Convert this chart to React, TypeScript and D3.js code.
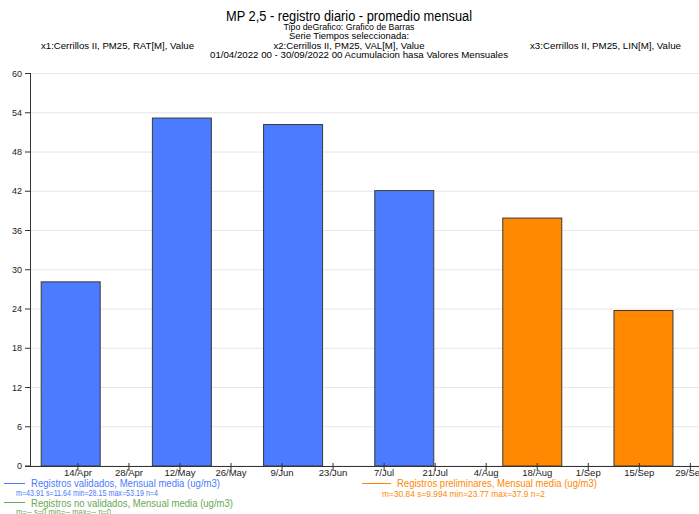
import React from "react";
import * as d3 from "d3";

const W = 699;
const H = 514;

const titleText = "MP 2,5 - registro diario - promedio mensual";
const subLines = [
  "Tipo deGrafico: Grafico de Barras",
  "Serie Tiempos seleccionada:",
];
const seriesIds = [
  "x1:Cerrillos II, PM25, RAT[M], Value",
  "x2:Cerrillos II, PM25, VAL[M], Value",
  "x3:Cerrillos II, PM25, LIN[M], Value",
];
const rangeText = "01/04/2022 00 - 30/09/2022 00  Acumulacion hasa Valores Mensuales";

// monthly means
const validMonths = ["2022-04", "2022-05", "2022-06", "2022-07"];
const validValues = [28.15, 53.19, 52.2, 42.1];
const prelimMonths = ["2022-08", "2022-09"];
const prelimValues = [37.9, 23.77];

const yTicks = [0, 6, 12, 18, 24, 30, 36, 42, 48, 54, 60];

const legendItems = [
  { label: "Registros validados, Mensual media (ug/m3)", stats: "m=43.91 s=11.64 min=28.15 max=53.19 n=4" },
  { label: "Registros preliminares, Mensual media (ug/m3)", stats: "m=30.84 s=9.994 min=23.77 max=37.9 n=2" },
  { label: "Registros no validados, Mensual media (ug/m3)", stats: "m=-- s=0 min=-- max=-- n=0" },
];

const FONT = "'Liberation Sans Narrow', 'Arial Narrow', 'Liberation Sans', Arial, sans-serif";
const BLUE = "#4b7bff";
const ORANGE = "#ff8800";
const GREEN = "#6aa84f";

const parseMonth = d3.timeParse("%Y-%m");

export default function App() {
  const x = d3
    .scaleTime()
    .domain([new Date(2022, 3, 1), new Date(2022, 8, 30)])
    .range([30.5, 694]);
  const y = d3.scaleLinear().domain([0, 60]).range([466, 73.5]);
  const xTicks = d3.timeDay.range(new Date(2022, 3, 14), new Date(2022, 9, 1), 14);
  const fmt = d3.timeFormat("%-d/%b");

  const barW = 59;
  const monthCenter = (m: string) => {
    const s = parseMonth(m)!;
    const e = d3.timeMonth.offset(s, 1);
    return (x(s) + x(e)) / 2;
  };

  const bars = [
    ...validMonths.map((m, i) => ({ cx: monthCenter(m) - 14.5, v: validValues[i], c: BLUE })),
    ...prelimMonths.map((m, i) => ({ cx: monthCenter(m) + 0.5, v: prelimValues[i], c: ORANGE })),
  ];

  return (
    <svg
      width={W}
      height={H}
      style={{ position: "absolute", left: 0, top: 0, background: "#fff" }}
      fontFamily={FONT}
    >
      {/* header */}
      <text x={349} y={20.5} textAnchor="middle" fontSize={14} textLength={246} lengthAdjust="spacingAndGlyphs">
        {titleText}
      </text>
      <text x={349} y={30} textAnchor="middle" fontSize={9} textLength={131} lengthAdjust="spacingAndGlyphs">
        {subLines[0]}
      </text>
      <text x={349} y={39} textAnchor="middle" fontSize={9} textLength={120} lengthAdjust="spacingAndGlyphs">
        {subLines[1]}
      </text>
      <text x={41} y={48.5} fontSize={9} textLength={153} lengthAdjust="spacingAndGlyphs">
        {seriesIds[0]}
      </text>
      <text x={349} y={48.5} textAnchor="middle" fontSize={9} textLength={151} lengthAdjust="spacingAndGlyphs">
        {seriesIds[1]}
      </text>
      <text x={681} y={48.5} textAnchor="end" fontSize={9} textLength={151} lengthAdjust="spacingAndGlyphs">
        {seriesIds[2]}
      </text>
      <text x={359} y={58} textAnchor="middle" fontSize={9} textLength={298} lengthAdjust="spacingAndGlyphs">
        {rangeText}
      </text>

      {/* grid */}
      {yTicks.map((t) => (
        <line key={"g" + t} x1={31} x2={W} y1={y(t)} y2={y(t)} stroke="#e6e6e6" strokeWidth={1} />
      ))}

      {/* bars */}
      {bars.map((b, i) => (
        <rect
          key={i}
          x={b.cx - barW / 2}
          y={y(b.v)}
          width={barW}
          height={y(0) - y(b.v)}
          fill={b.c}
          stroke="#3a3a3a"
          strokeWidth={1}
        />
      ))}

      {/* y axis */}
      <line x1={30.5} x2={30.5} y1={y(60)} y2={y(0)} stroke="#333" />
      {yTicks.map((t) => (
        <g key={"y" + t}>
          <line x1={25} x2={31} y1={y(t)} y2={y(t)} stroke="#333" />
          <text x={22} y={y(t) + 3} textAnchor="end" fontSize={9} fill="#222">
            {t}
          </text>
        </g>
      ))}

      {/* x axis */}
      <line x1={25} x2={W} y1={466.5} y2={466.5} stroke="#333" />
      {xTicks.map((d, i) => (
        <g key={"x" + i}>
          <line x1={x(d)} x2={x(d)} y1={463} y2={471} stroke="#333" />
          <text x={x(d)} y={476} textAnchor="middle" fontSize={9.5} fill="#222">
            {fmt(d)}
          </text>
        </g>
      ))}

      {/* legend */}
      <line x1={4} x2={25} y1={483.5} y2={483.5} stroke={BLUE} />
      <text x={31} y={487} fontSize={10.5} fill={BLUE} textLength={189} lengthAdjust="spacingAndGlyphs">
        {legendItems[0].label}
      </text>
      <text x={16} y={495.5} fontSize={9} fill={BLUE} textLength={142} lengthAdjust="spacingAndGlyphs">
        {legendItems[0].stats}
      </text>

      <line x1={362} x2={391} y1={483.5} y2={483.5} stroke={ORANGE} />
      <text x={397} y={487} fontSize={10.5} fill={ORANGE} textLength={200} lengthAdjust="spacingAndGlyphs">
        {legendItems[1].label}
      </text>
      <text x={382} y={496.5} fontSize={9} fill={ORANGE} textLength={163} lengthAdjust="spacingAndGlyphs">
        {legendItems[1].stats}
      </text>

      <line x1={4} x2={25} y1={502.5} y2={502.5} stroke={GREEN} />
      <text x={31} y={506.5} fontSize={10.5} fill={GREEN} textLength={202} lengthAdjust="spacingAndGlyphs">
        {legendItems[2].label}
      </text>
      <text x={16} y={515} fontSize={9} fill={GREEN} textLength={95} lengthAdjust="spacingAndGlyphs">
        {legendItems[2].stats}
      </text>
    </svg>
  );
}
